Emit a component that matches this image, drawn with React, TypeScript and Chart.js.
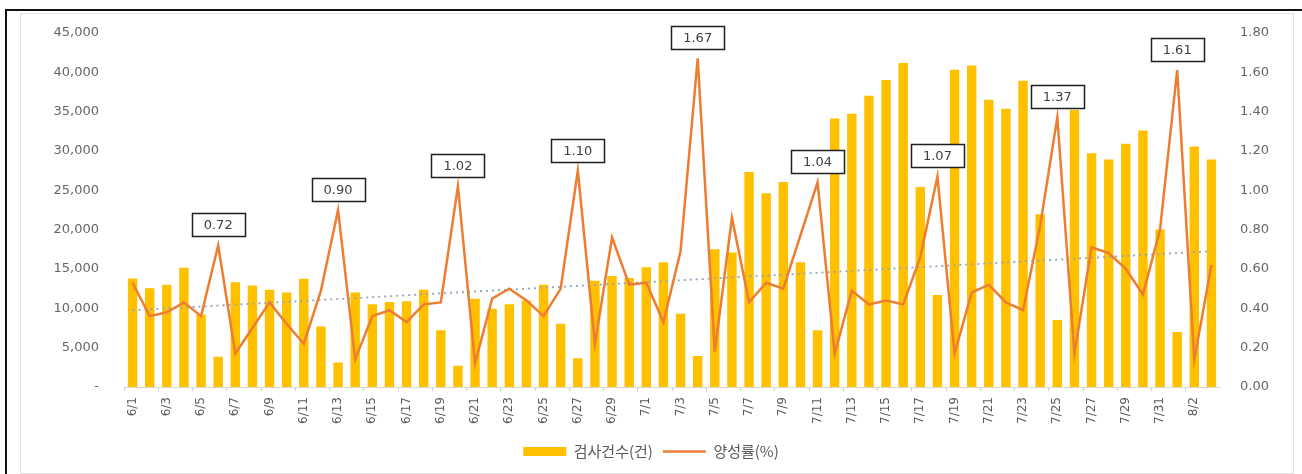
import React, { useEffect, useRef } from 'react';
import { Chart, registerables } from 'chart.js';

Chart.register(...registerables);

const dates = [
  '6/1', '6/2', '6/3', '6/4', '6/5', '6/6', '6/7', '6/8', '6/9', '6/10',
  '6/11', '6/12', '6/13', '6/14', '6/15', '6/16', '6/17', '6/18', '6/19', '6/20',
  '6/21', '6/22', '6/23', '6/24', '6/25', '6/26', '6/27', '6/28', '6/29', '6/30',
  '7/1', '7/2', '7/3', '7/4', '7/5', '7/6', '7/7', '7/8', '7/9', '7/10',
  '7/11', '7/12', '7/13', '7/14', '7/15', '7/16', '7/17', '7/18', '7/19', '7/20',
  '7/21', '7/22', '7/23', '7/24', '7/25', '7/26', '7/27', '7/28', '7/29', '7/30',
  '7/31', '8/1', '8/2', '8/3',
];

const testCounts = [
  13800, 12550, 13000, 15150, 9200, 3850, 13300, 12900, 12350, 12000,
  13750, 7700, 3100, 12000, 10500, 10800, 10900, 12350, 7200, 2700,
  11200, 9950, 10500, 11000, 13000, 8050, 3650, 13500, 14100, 13850,
  15200, 15850, 9300, 3950, 17500, 17100, 27300, 24600, 26050, 15850,
  7200, 34100, 34700, 37000, 39000, 41150, 25400, 11700, 40300, 40850,
  36500, 35350, 38900, 21950, 8500, 35200, 29700, 28900, 30900, 32600,
  20000, 7000, 30550, 28900,
];

const positiveRates = [
  0.53, 0.36, 0.38, 0.43, 0.36, 0.72, 0.17, 0.30, 0.43, 0.32,
  0.22, 0.49, 0.90, 0.14, 0.36, 0.39, 0.33, 0.42, 0.43, 1.02,
  0.12, 0.45, 0.50, 0.44, 0.36, 0.50, 1.10, 0.22, 0.76, 0.52,
  0.53, 0.33, 0.69, 1.67, 0.18, 0.86, 0.43, 0.53, 0.50, 0.77,
  1.04, 0.17, 0.49, 0.42, 0.44, 0.42, 0.66, 1.07, 0.17, 0.48,
  0.52, 0.43, 0.39, 0.82, 1.37, 0.17, 0.71, 0.68, 0.60, 0.47,
  0.80, 1.61, 0.14, 0.62,
];

// dotted linear trend of the positive rate: value at first and last day
const trendEnds = [0.39, 0.69];

// days whose rate is shown in a boxed label
const labeledDates = ['6/6', '6/13', '6/20', '6/27', '7/4', '7/11', '7/18', '7/25', '8/1'];

const countLabel = '검사건수(건)';
const rateLabel = '양성률(%)';

const countMax = 45000;
const countStep = 5000;
const rateMax = 1.8;
const rateStep = 0.2;

const boxLabelPlugin = {
  id: 'boxLabels',
  afterDatasetsDraw(chart: any) {
    const meta = chart.getDatasetMeta(1);
    const ctx = chart.ctx;
    ctx.save();
    ctx.font = '13px "DejaVu Sans"';
    labeledDates.forEach((d) => {
      const i = dates.indexOf(d);
      const pt = meta.data[i];
      if (!pt) return;
      const text = positiveRates[i].toFixed(2);
      const w = Math.round(ctx.measureText(text).width + 24);
      const h = 23;
      const x = Math.round(pt.x - w / 2) + 0.5;
      const y = Math.round(pt.y - 9 - h) + 0.5;
      ctx.fillStyle = '#ffffff';
      ctx.fillRect(x, y, w, h);
      ctx.lineWidth = 1.5;
      ctx.strokeStyle = '#1f1f1f';
      ctx.strokeRect(x, y, w, h);
      ctx.fillStyle = '#404040';
      ctx.textAlign = 'center';
      ctx.textBaseline = 'middle';
      ctx.fillText(text, pt.x, y + h / 2 + 1);
    });
    ctx.restore();
  },
};

export default function App() {
  const canvasRef = useRef<HTMLCanvasElement | null>(null);

  useEffect(() => {
    if (!canvasRef.current) return;
    Chart.defaults.font.family = '"DejaVu Sans", sans-serif';
    const trendData = dates.map((_, i) =>
      i === 0 ? trendEnds[0] : i === dates.length - 1 ? trendEnds[1] : null
    );
    const chart = new Chart(canvasRef.current, {
      type: 'bar',
      data: {
        labels: dates,
        datasets: [
          {
            type: 'bar',
            label: countLabel,
            data: testCounts,
            backgroundColor: '#FFC000',
            borderWidth: 0,
            yAxisID: 'y',
            order: 2,
            categoryPercentage: 1,
            barPercentage: 0.55,
            pointStyle: 'rect',
          } as any,
          {
            type: 'line',
            label: rateLabel,
            data: positiveRates,
            borderColor: '#ED7D31',
            backgroundColor: '#ED7D31',
            borderWidth: 2.5,
            pointRadius: 0,
            pointHoverRadius: 0,
            tension: 0,
            yAxisID: 'y1',
            order: 0,
            pointStyle: 'line',
          } as any,
          {
            type: 'line',
            label: 'trend',
            data: trendData,
            borderColor: '#93A5B8',
            borderWidth: 1.8,
            borderDash: [2, 4],
            pointRadius: 0,
            spanGaps: true,
            yAxisID: 'y1',
            order: 1,
          } as any,
        ],
      },
      options: {
        animation: false,
        responsive: true,
        maintainAspectRatio: false,
        layout: { padding: { top: 31, bottom: 5, left: 0, right: 0 } },
        plugins: {
          tooltip: { enabled: false },
          legend: {
            position: 'bottom',
            labels: {
              usePointStyle: true,
              pointStyleWidth: 43,
              boxHeight: 9,
              color: '#595959',
              font: { size: 15, family: '"Noto Sans CJK KR", sans-serif' },
              padding: 10,
              filter: (item: any) => item.datasetIndex !== 2,
              sort: (a: any, b: any) => a.datasetIndex - b.datasetIndex,
            },
          },
        },
        scales: {
          x: {
            offset: true,
            grid: {
              display: true,
              drawOnChartArea: false,
              drawTicks: true,
              tickLength: 4,
              offset: true,
              color: (c: any) => (c.index % 2 === 0 ? '#C5D0DC' : 'rgba(0,0,0,0)'),
            },
            border: { display: true, color: '#D9D9D9', width: 1 },
            ticks: {
              autoSkip: false,
              minRotation: 90,
              maxRotation: 90,
              padding: 6,
              color: '#595959',
              font: { size: 12 },
              callback: (_v: any, i: number) => (i % 2 === 0 ? dates[i] : ''),
            },
            afterFit: (scale: any) => {
              scale.height = 47;
            },
          },
          y: {
            position: 'left',
            min: 0,
            max: countMax,
            grid: { display: false, drawTicks: false },
            border: { display: false },
            ticks: {
              stepSize: countStep,
              padding: 25,
              color: '#666666',
              font: { size: 13 },
              callback: (v: any) => (Number(v) === 0 ? '-' : Number(v).toLocaleString('en-US')),
            },
            afterFit: (scale: any) => {
              scale.width = 124;
            },
          },
          y1: {
            position: 'right',
            min: 0,
            max: rateMax,
            grid: { display: false, drawTicks: false },
            border: { display: false },
            ticks: {
              stepSize: rateStep,
              padding: 20,
              color: '#666666',
              font: { size: 13 },
              callback: (v: any) => Number(v).toFixed(2),
            },
            afterFit: (scale: any) => {
              scale.width = 82;
            },
          },
        },
      },
      plugins: [boxLabelPlugin],
    } as any);
    return () => chart.destroy();
  }, []);

  return (
    <div style={{ position: 'absolute', left: 0, top: 0, width: 1302, height: 474, background: '#ffffff', overflow: 'hidden' }}>
      <div
        style={{
          position: 'absolute',
          left: 5,
          top: 9,
          width: 1310,
          height: 480,
          borderTop: '2px solid #111',
          borderLeft: '2px solid #111',
        }}
      />
      <div
        style={{
          position: 'absolute',
          left: 20,
          top: 13,
          width: 1272,
          height: 459,
          border: '1px solid #E3E3E3',
        }}
      />
      <div style={{ position: 'absolute', left: 0, top: 0, width: 1302, height: 474 }}>
        <canvas ref={canvasRef} />
      </div>
    </div>
  );
}
